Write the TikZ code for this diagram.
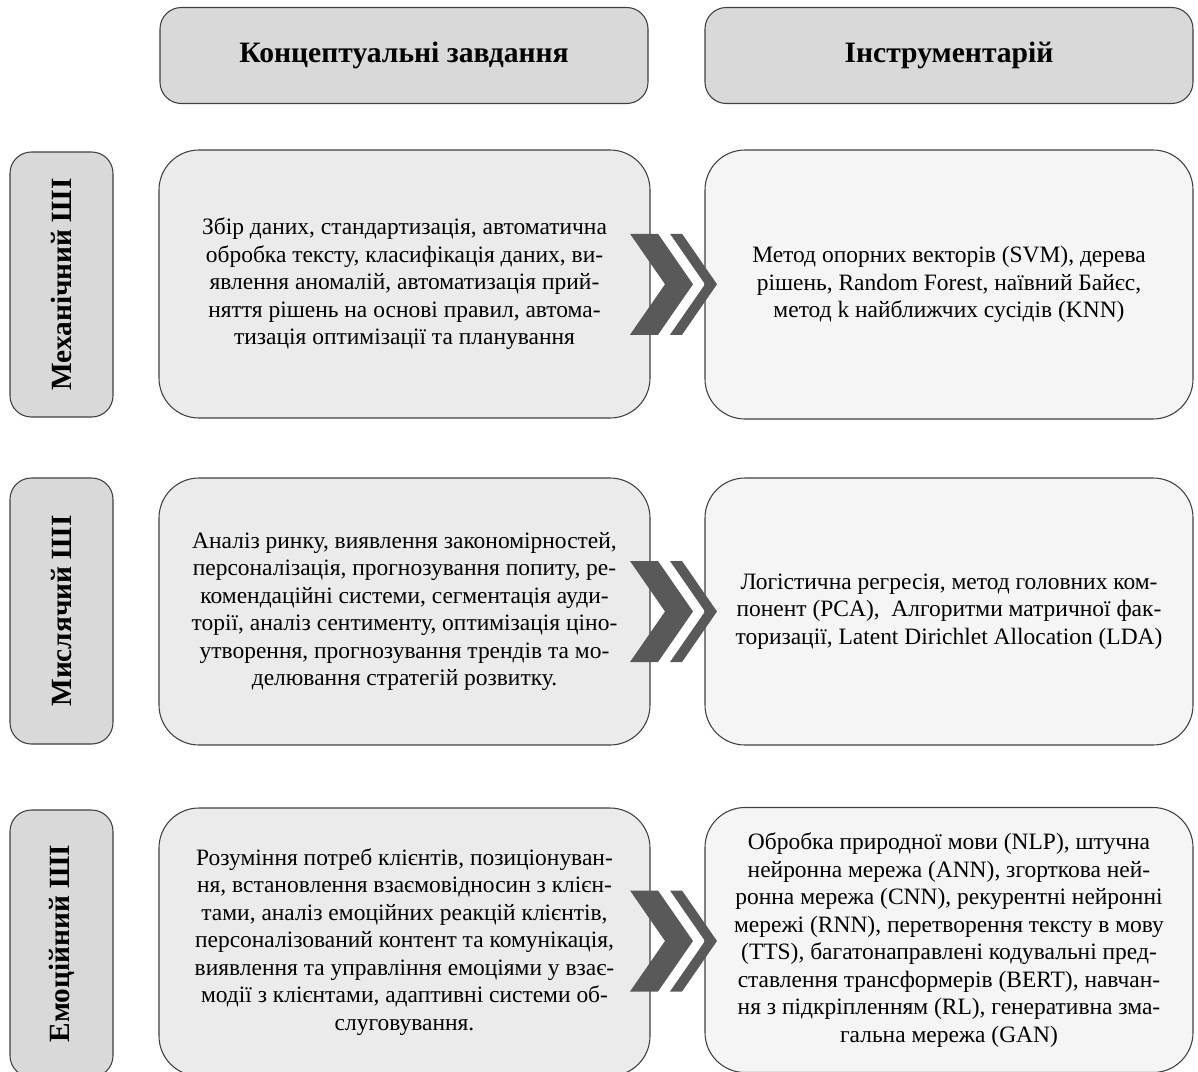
\documentclass[tikz,border=0pt]{standalone}
\usepackage{fontspec}
\setmainfont{Liberation Serif}
\usetikzlibrary{calc}
\definecolor{hdrfill}{HTML}{D9D9D9}
\definecolor{midfill}{HTML}{EBEBEB}
\definecolor{rgtfill}{HTML}{F5F5F5}
\definecolor{edgecol}{HTML}{404040}
\definecolor{chevcol}{HTML}{595959}
\begin{document}
\begin{tikzpicture}[x=0.75pt,y=-0.75pt,
  boxbase/.style={draw=edgecol,line width=0.8pt,inner sep=0pt,align=center},
  hdrbox/.style={boxbase,fill=hdrfill,rounded corners=16pt,minimum width=366pt,minimum height=72pt,
    font=\fontsize{22.2}{25}\selectfont\bfseries},
  sidebox/.style={boxbase,fill=hdrfill,rounded corners=16pt,rotate=90,minimum height=77.25pt,
    font=\fontsize{22}{25}\selectfont\bfseries},
  midbox/.style={boxbase,fill=midfill,rounded corners=30pt,minimum width=368.25pt,
    font=\fontsize{17.6}{20.6}\selectfont},
  rgtbox/.style={boxbase,fill=rgtfill,rounded corners=30pt,minimum width=366pt,
    font=\fontsize{17.6}{20.6}\selectfont},
  chevs/.pic={
    \fill[chevcol] (-47.5,-50.5) -- (-19.5,-50.5) -- (15.5,0) -- (-19.5,50.5) -- (-47.5,50.5) -- (-12.5,0) -- cycle;
    \fill[chevcol] (-7.5,-50.5) -- (4.5,-50.5) -- (39.5,0) -- (4.5,50.5) -- (-7.5,50.5) -- (27.5,0) -- cycle;
  }]
\clip (0,0) rectangle (1198,1071);
\fill[white] (0,0) rectangle (1198,1071);

% headers
\node[hdrbox] (h1) at (404,55.5) {Концептуальні завдання};
\node[hdrbox] (h2) at (949,55.5) {Інструментарій};

% side labels
\node[sidebox,minimum width=198.75pt] (s1) at (61.5,284.5) {Механічний ШІ};
\node[sidebox,minimum width=199.5pt] (s2) at (61.5,611) {Мислячий ШІ};
\node[sidebox,minimum width=200.25pt] (s3) at (61.5,943.5) {Емоційний ШІ};

% row 1
\node[midbox,minimum height=201pt] (m1) at (404.5,284) {Збір даних, стандартизація, автоматична\\
обробка тексту, класифікація даних, ви-\\
явлення аномалій, автоматизація прий-\\
няття рішень на основі правил, автома-\\
тизація оптимізації та планування};
\node[rgtbox,minimum height=201.75pt] (r1) at (949,284.5) {Метод опорних векторів (SVM), дерева\\
рішень, Random Forest, наївний Байєс,\\
метод k найближчих сусідів (KNN)};

% row 2
\node[midbox,minimum height=200.25pt] (m2) at (404.5,611.5) {Аналіз ринку, виявлення закономірностей,\\
персоналізація, прогнозування попиту, ре-\\
комендаційні системи, сегментація ауди-\\
торії, аналіз сентименту, оптимізація ціно-\\
утворення, прогнозування трендів та мо-\\
делювання стратегій розвитку.};
\node[rgtbox,minimum height=200.25pt] (r2) at (949,611.5) {Логістична регресія, метод головних ком-\\
понент (PCA),\ \ Алгоритми матричної фак-\\
торизації, Latent Dirichlet Allocation (LDA)};

% row 3
\node[midbox,minimum height=201pt] (m3) at (404.5,942) {Розуміння потреб клієнтів, позиціонуван-\\
ня, встановлення взаємовідносин з клієн-\\
тами, аналіз емоційних реакцій клієнтів,\\
персоналізований контент та комунікація,\\
виявлення та управління емоціями у взає-\\
модії з клієнтами, адаптивні системи об-\\
слуговування.};
\node[rgtbox,minimum height=198.75pt] (r3) at (949,940) {Обробка природної мови (NLP), штучна\\
нейронна мережа (ANN), згорткова ней-\\
ронна мережа (CNN), рекурентні нейронні\\
мережі (RNN), перетворення тексту в мову\\
(TTS), багатонаправлені кодувальні пред-\\
ставлення трансформерів (BERT), навчан-\\
ня з підкріпленням (RL), генеративна зма-\\
гальна мережа (GAN)};

% chevron connectors
\path ($(m1.east)!0.5!(r1.west)$) pic {chevs};
\path ($(m2.east)!0.5!(r2.west)$) pic {chevs};
\path ($(m3.east)!0.5!(r3.west)$) pic {chevs};
\end{tikzpicture}
\end{document}
